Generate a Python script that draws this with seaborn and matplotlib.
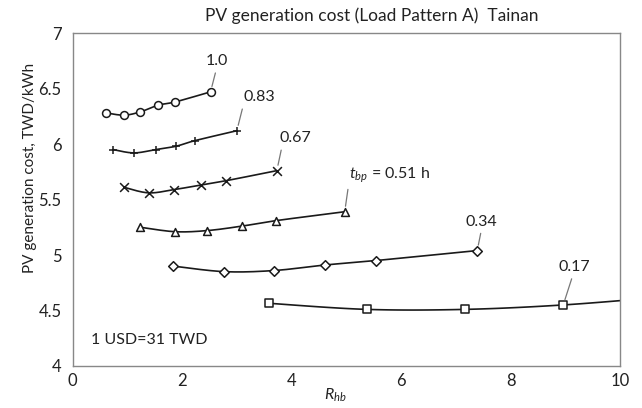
import numpy as np
import seaborn as sns
import matplotlib.pyplot as plt

# values
tbp_labels = ["1.0", "0.83", "0.67", "$t_{bp}$ = 0.51 h", "0.34", "0.17"]
markers = ["o", "+", "x", "^", "D", "s"]

rhb_100 = [0.62, 0.94, 1.24, 1.56, 1.88, 2.52]
cost_100 = [6.28, 6.26, 6.29, 6.35, 6.38, 6.47]

rhb_083 = [0.74, 1.12, 1.52, 1.89, 2.23, 3.00]
cost_083 = [5.95, 5.92, 5.95, 5.98, 6.03, 6.12]

rhb_067 = [0.94, 1.39, 1.86, 2.34, 2.81, 3.73]
cost_067 = [5.61, 5.56, 5.59, 5.63, 5.67, 5.76]

rhb_051 = [1.24, 1.87, 2.46, 3.09, 3.72, 4.97]
cost_051 = [5.25, 5.21, 5.22, 5.26, 5.31, 5.39]

rhb_034 = [1.84, 2.77, 3.68, 4.61, 5.54, 7.39]
cost_034 = [4.90, 4.85, 4.86, 4.91, 4.95, 5.04]

# last point lies past the right edge, the curve runs off the frame
rhb_017 = [3.58, 5.37, 7.17, 8.96, 10.75]
cost_017 = [4.565, 4.51, 4.51, 4.55, 4.62]

xticks = [0, 2, 4, 6, 8, 10]
yticks = [4, 4.5, 5, 5.5, 6, 6.5, 7]
ytick_labels = ["4", "4.5", "5", "5.5", "6", "6.5", "7"]

# where each label sits (data coords) and where its leader joins the text
label_pos = [(2.63, 6.745), (3.41, 6.42), (4.06, 6.05), (5.78, 5.72), (7.47, 5.30), (9.17, 4.89)]
label_rel = [(0.5, 0), (0, 0), (0.1, 0), (0, 0), (0.5, 0), (0.45, 0)]

series = [(rhb_100, cost_100), (rhb_083, cost_083), (rhb_067, cost_067),
          (rhb_051, cost_051), (rhb_034, cost_034), (rhb_017, cost_017)]


def smooth(xs, ys, n=30):
    # excel style smoothed line (bezier through the points)
    p = np.column_stack([xs, ys])
    p = np.vstack([p[0], p, p[-1]])
    t = np.linspace(0, 1, n)[:, None]
    out = []
    for i in range(1, len(p) - 2):
        p0, p1, p2, p3 = p[i - 1], p[i], p[i + 1], p[i + 2]
        c1 = p1 + (p2 - p0) / 6
        c2 = p2 - (p3 - p1) / 6
        out.append((1 - t) ** 3 * p1 + 3 * (1 - t) ** 2 * t * c1
                   + 3 * (1 - t) * t ** 2 * c2 + t ** 3 * p2)
    return np.vstack(out)


sns.set_style("white")
plt.rcParams["font.family"] = ["Lato", "DejaVu Sans"]
plt.rcParams["mathtext.fontset"] = "custom"
plt.rcParams["mathtext.rm"] = "Lato"
plt.rcParams["mathtext.it"] = "Lato:italic"

fig = plt.figure(figsize=(6.42, 4.08), dpi=100)
ax = fig.add_subplot(111)
fig.subplots_adjust(left=0.113, right=0.966, bottom=0.103, top=0.919)

for (xs, ys), mk, lab, pos, rel in zip(series, markers, tbp_labels, label_pos, label_rel):
    curve = smooth(xs, ys)
    sns.lineplot(x=curve[:, 0], y=curve[:, 1], color="#1a1a1a", linewidth=1.2,
                 sort=False, ax=ax, legend=False)
    if mk in ["+", "x"]:
        sns.scatterplot(x=xs, y=ys, marker=mk, color="#1a1a1a", s=40,
                        linewidth=1.1, ax=ax, legend=False, zorder=3)
    else:
        sns.scatterplot(x=xs, y=ys, marker=mk, facecolor="white", edgecolor="#1a1a1a",
                        s=32 if mk != "D" else 24, linewidth=1.1, ax=ax, legend=False, zorder=3)
    # the label points at the marker with the largest R_hb that is inside the frame
    k = max(i for i in range(len(xs)) if xs[i] <= 10)
    ax.annotate(lab, xy=(xs[k], ys[k]), xytext=pos, ha="center", va="center",
                fontsize=11.5, color="#222222",
                arrowprops=dict(arrowstyle="-", color="#777777", lw=0.9,
                                relpos=rel, shrinkA=1, shrinkB=4))

ax.text(0.033, 0.078, "1 USD=31 TWD", transform=ax.transAxes, fontsize=11.5,
        ha="left", va="center", color="#222222")

ax.set_xlim(0, 10)
ax.set_ylim(4, 7)
ax.set_xticks(xticks)
ax.set_yticks(yticks)
ax.set_yticklabels(ytick_labels)
ax.tick_params(axis="x", direction="in", length=3, color="#888888", labelsize=12,
               pad=5, labelcolor="#222222")
ax.tick_params(axis="y", direction="out", length=4, color="#888888", labelsize=12,
               pad=4, labelcolor="#222222")
for sp in ax.spines.values():
    sp.set_color("#888888")
    sp.set_linewidth(1.0)

ax.set_xlabel("$R_{hb}$", fontsize=11.5, color="#222222")
ax.xaxis.set_label_coords(0.479, -0.063)
ax.xaxis.label.set_va("top")
ax.set_ylabel("PV generation cost, TWD/kWh", fontsize=11, color="#222222")
ax.yaxis.set_label_coords(-0.065, 0.595)

ax.text(0.547, 1.052, "PV generation cost (Load Pattern A)  Tainan", transform=ax.transAxes,
        ha="center", va="center", fontsize=12.5, color="#222222")

fig.savefig("out.png", dpi=100)
